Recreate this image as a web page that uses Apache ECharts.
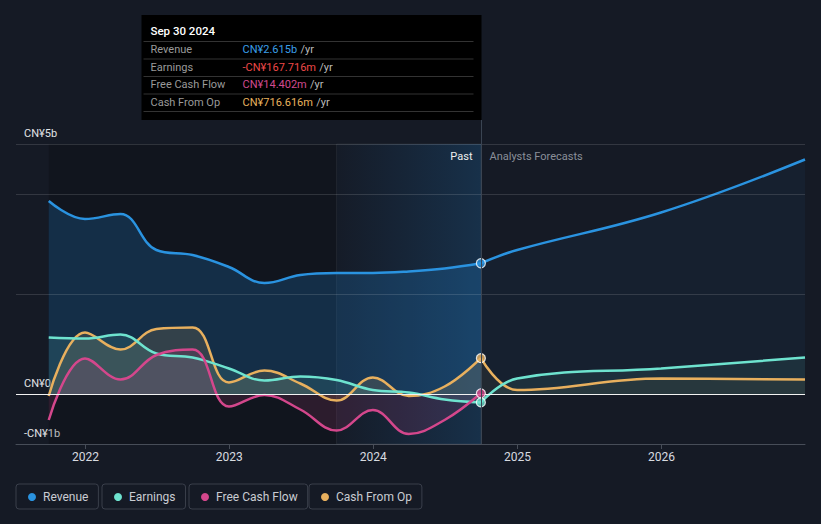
<!DOCTYPE html>
<html>
<head>
<meta charset="utf-8">
<script src="https://cdn.jsdelivr.net/npm/echarts@6/dist/echarts.min.js"></script>
<style>
  html, body { margin: 0; padding: 0; background: #151a25; }
  #chart { width: 821px; height: 524px; }
</style>
</head>
<body>
<div id="chart"></div>
<script>
// values in CN¥ billions
const pastDates = ['2021-09-30', '2021-12-31', '2022-03-31', '2022-06-30', '2022-09-30', '2022-12-31',
  '2023-03-31', '2023-06-30', '2023-09-30', '2023-12-31', '2024-03-31', '2024-06-30', '2024-09-30'];
const revenue = [3.86, 3.50, 3.60, 2.88, 2.78, 2.54, 2.22, 2.38, 2.42, 2.42, 2.45, 2.51, 2.615];
const earnings = [1.13, 1.11, 1.19, 0.81, 0.73, 0.51, 0.27, 0.35, 0.28, 0.08, 0.03, -0.11, -0.168];
const freeCashFlow = [-0.52, 0.71, 0.29, 0.78, 0.89, -0.25, -0.02, -0.31, -0.73, -0.32, -0.80, -0.52, 0.014];
const cashFromOp = [-0.04, 1.23, 0.89, 1.30, 1.33, 0.23, 0.47, 0.21, -0.13, 0.33, -0.04, 0.15, 0.717];

const forecastDates = ['2024-09-30', '2024-12-31', '2025-12-31', '2026-12-31'];
const revenueForecast = [2.615, 2.88, 3.63, 4.69];
const earningsForecast = [-0.168, 0.31, 0.51, 0.73];
const cashFromOpForecast = [0.717, 0.08, 0.31, 0.29];

const yearTicks = ['2022', '2023', '2024', '2025', '2026'];
const yTicks = [-1, 0, 5];
const yTickLabels = ['-CN¥1b', 'CN¥0', 'CN¥5b'];
const gridValues = [5, 4, 2];

const names = ['Revenue', 'Earnings', 'Free Cash Flow', 'Cash From Op'];
const tipValues = ['CN¥2.615b', '-CN¥167.716m', 'CN¥14.402m', 'CN¥716.616m'];
const tipDate = 'Sep 30 2024';

const axisStart = '2021-07-09';
const axisEnd = '2026-12-31';
const pastStart = '2021-09-30';
const bandStart = '2023-09-30';
const splitDate = '2024-09-30';

const colors = {
  'Revenue': '#2a93e0',
  'Earnings': '#6ee3cf',
  'Free Cash Flow': '#d4478c',
  'Cash From Op': '#e8b05e'
};
const tipColors = ['#3a9fe8', '#ee4848', '#d24a8f', '#e8b25e'];

const ts = s => new Date(s + 'T00:00:00').getTime();
const pairs = (dates, vals) => dates.map((d, i) => [ts(d), vals[i]]);
const yearStamps = yearTicks.map(y => ts(y + '-01-01'));

function line(name, data, fill, z) {
  return {
    name: name,
    type: 'line',
    data: data,
    smooth: 0.4,
    symbol: 'none',
    z: z || 2,
    lineStyle: { color: colors[name], width: 2.5 },
    itemStyle: { color: colors[name] },
    areaStyle: { color: fill },
    silent: true
  };
}

function dot(name, date, value) {
  return {
    name: name,
    type: 'scatter',
    data: [[ts(date), value]],
    symbolSize: 9,
    z: 5,
    itemStyle: { color: colors[name], borderColor: '#ffffff', borderWidth: 1.2 },
    silent: true
  };
}

const last = arr => arr[arr.length - 1];

let myChart = echarts.init(document.getElementById('chart'), null, { renderer: 'svg' });

let option = {
  animation: false,
  backgroundColor: '#151a25',
  textStyle: { fontFamily: 'Roboto' },
  grid: { left: 16, right: 16, top: 144, bottom: 80, containLabel: false, outerBoundsMode: 'none' },
  legend: names.map((n, i) => ({
    data: [n],
    left: [16, 102, 189, 309][i],
    top: 484,
    icon: 'circle',
    itemWidth: 8,
    itemHeight: 8,
    padding: [7, 10, 6, 12],
    borderColor: '#3a3f4b',
    borderWidth: 1,
    borderRadius: 3,
    selectedMode: false,
    textStyle: { color: '#c9ccd2', fontSize: 12, padding: [0, 0, 0, 2] }
  })),
  xAxis: {
    type: 'value',
    min: ts(axisStart),
    max: ts(axisEnd),
    axisLine: { onZero: false, lineStyle: { color: '#474d58' } },
    axisTick: { show: true, customValues: yearStamps, length: 5, lineStyle: { color: '#474d58' } },
    axisLabel: {
      customValues: yearStamps,
      formatter: v => { const i = yearStamps.indexOf(v); return i < 0 ? '' : yearTicks[i]; },
      color: '#d8dbe0',
      fontSize: 12,
      margin: 7
    },
    splitLine: { show: false }
  },
  yAxis: {
    type: 'value',
    min: -1,
    max: 5,
    interval: 1,
    splitLine: { show: false },
    axisLine: { show: false },
    axisTick: { show: false },
    axisLabel: {
      inside: true,
      customValues: yTicks,
      formatter: v => { const i = yTicks.indexOf(v); return i < 0 ? '' : yTickLabels[i]; },
      color: '#e1e3e6',
      fontSize: 11,
      margin: 8,
      verticalAlign: 'bottom',
      padding: [0, 0, 5, 0]
    }
  },
  series: [
    {
      type: 'line',
      data: [],
      z: 1,
      silent: true,
      markArea: {
        silent: true,
        itemStyle: { color: 'rgba(0,0,0,0.18)' },
        data: [[{ xAxis: ts(pastStart) }, { xAxis: ts(bandStart) }]]
      },
      markLine: {
        silent: true,
        symbol: 'none',
        label: { show: false },
        lineStyle: { color: 'rgba(255,255,255,0.13)', width: 1, type: 'solid' },
        data: gridValues.map(v => ({ yAxis: v }))
      }
    },
    line('Revenue', pairs(pastDates, revenue), 'rgba(35,140,225,0.30)'),
    line('Revenue', pairs(forecastDates, revenueForecast), 'rgba(40,120,190,0.10)'),
    line('Cash From Op', pairs(pastDates, cashFromOp), 'rgba(232,176,94,0.22)'),
    line('Cash From Op', pairs(forecastDates, cashFromOpForecast), 'rgba(232,176,94,0.08)'),
    line('Earnings', pairs(pastDates, earnings), 'rgba(110,227,207,0.18)'),
    line('Earnings', pairs(forecastDates, earningsForecast), 'rgba(110,227,207,0.12)'),
    line('Free Cash Flow', pairs(pastDates, freeCashFlow), 'rgba(212,71,140,0.2)'),
    {
      type: 'line',
      data: [],
      z: 3,
      silent: true,
      markArea: {
        silent: true,
        itemStyle: {
          color: new echarts.graphic.LinearGradient(0, 0, 1, 0, [
            { offset: 0, color: 'rgba(30,110,180,0.02)' },
            { offset: 1, color: 'rgba(30,120,190,0.24)' }
          ]),
          borderColor: 'rgba(255,255,255,0.06)',
          borderWidth: 1
        },
        data: [[{ xAxis: ts(bandStart) }, { xAxis: ts(splitDate) }]]
      },
      markLine: {
        silent: true,
        symbol: 'none',
        label: { show: false },
        lineStyle: { color: '#f2f2f2', width: 1, type: 'solid' },
        data: [{ yAxis: 0 }]
      }
    },
    dot('Revenue', splitDate, last(revenue)),
    dot('Cash From Op', splitDate, last(cashFromOp)),
    dot('Free Cash Flow', splitDate, last(freeCashFlow)),
    dot('Earnings', splitDate, last(earnings))
  ]
};
myChart.setOption(option);

// tooltip-like box, divider and past/forecast captions anchored at the split date
const splitPx = myChart.convertToPixel({ gridIndex: 0 }, [ts(splitDate), 0]);
const bottomPx = myChart.convertToPixel({ gridIndex: 0 }, [ts(splitDate), -1]);
const topPx = myChart.convertToPixel({ gridIndex: 0 }, [ts(splitDate), 5]);
const divX = Math.round(splitPx[0]) + 0.5;
const boxW = 340, boxTop = 15, boxH = 105;
const bx = divX - boxW;
const rowY = [49.5, 67, 84.5, 102];
const sepY = [41, 58.5, 76, 93.5, 111];

let graphics = [
  { type: 'rect', shape: { x: bx, y: boxTop, width: boxW, height: boxH }, style: { fill: '#000000' }, z: 10 },
  { type: 'line', shape: { x1: divX, y1: boxTop + boxH, x2: divX, y2: bottomPx[1] }, style: { stroke: '#3a4452', lineWidth: 1 }, z: 10 },
  { type: 'text', x: bx + 9, y: 31, style: { text: tipDate, fill: '#ffffff', font: '500 11.5px Roboto', verticalAlign: 'middle' }, z: 11 },
  { type: 'text', x: divX - 9, y: topPx[1] + 12, style: { text: 'Past', fill: '#eeeeee', font: '11px Roboto', align: 'right', verticalAlign: 'middle' }, z: 11 },
  { type: 'text', x: divX + 8, y: topPx[1] + 12, style: { text: 'Analysts Forecasts', fill: '#8a8f99', font: '11px Roboto', align: 'left', verticalAlign: 'middle' }, z: 11 }
];
sepY.forEach(y => graphics.push({
  type: 'line', shape: { x1: bx + 2, y1: y + 0.5, x2: bx + 332, y2: y + 0.5 },
  style: { stroke: '#333333', lineWidth: 1 }, z: 11
}));
names.forEach((n, i) => {
  graphics.push({ type: 'text', x: bx + 9, y: rowY[i], style: { text: n, fill: '#9a9a9a', font: '11px Roboto', verticalAlign: 'middle' }, z: 11 });
  graphics.push({
    type: 'text', x: bx + 101, y: rowY[i],
    style: {
      text: '{v|' + tipValues[i] + '} {u|/yr}',
      verticalAlign: 'middle',
      rich: {
        v: { fill: tipColors[i], font: '11px Roboto' },
        u: { fill: '#bbbbbb', font: '11px Roboto' }
      }
    },
    z: 11
  });
});
myChart.setOption({ graphic: graphics });
</script>
</body>
</html>
